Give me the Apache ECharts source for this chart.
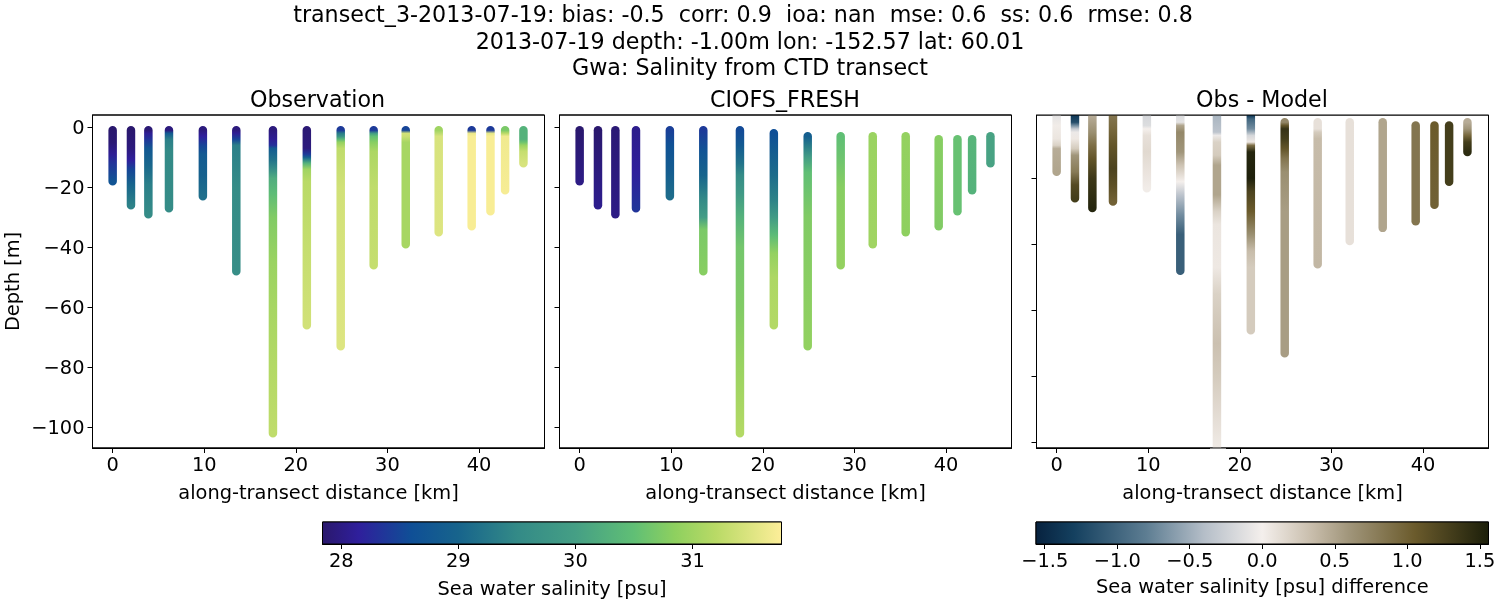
<!DOCTYPE html>
<html>
<head>
<meta charset="utf-8">
<title>transect_3-2013-07-19</title>
<style>
html, body { margin: 0; padding: 0; background: #fff; }
#main { width: 1500px; height: 600px; }
</style>
<script src="https://cdn.jsdelivr.net/npm/echarts@6/dist/echarts.min.js"></script>
</head>
<body>
<div id="main"></div>
<script>
// along-transect position of each CTD cast [km]
var castKm = [0, 2.0, 3.9, 6.15, 9.85, 13.5, 17.5, 21.2, 24.9, 28.5, 32.0, 35.6, 39.2, 41.25, 42.85, 44.85];

// [depth m, salinity psu], one list per cast
var obsProfiles = [
    [[1, 27.85], [5, 27.9], [9, 28.1], [12, 28.35], [18, 28.7]],
    [[1, 27.85], [7, 27.95], [11, 28.15], [14, 28.5], [19, 29.0], [26, 29.4]],
    [[1, 27.9], [2, 28.1], [4, 28.35], [7, 28.75], [13, 29.05], [19, 29.35], [29, 29.55]],
    [[1, 27.95], [2, 28.8], [4, 29.35], [8, 29.5], [27, 29.55]],
    [[1, 27.95], [3, 28.15], [6, 28.5], [9, 28.8], [16, 28.95], [23, 29.15]],
    [[1, 27.95], [2, 28.1], [4, 28.5], [6, 29.35], [20, 29.55], [48, 29.6]],
    [[1, 27.95], [4, 28.1], [6, 28.3], [7, 28.8], [11, 29.2], [14, 29.6], [17, 30.2], [22, 30.45], [30, 30.75], [45, 30.95], [60, 31.05], [80, 31.15], [102, 31.25]],
    [[1, 27.9], [7, 27.95], [9, 28.4], [10, 28.9], [11, 29.5], [12, 30.3], [14, 31.0], [18, 31.2], [40, 31.3], [66, 31.4]],
    [[1, 28.4], [2, 29.3], [3, 29.7], [4, 30.4], [5, 30.9], [7, 31.25], [20, 31.4], [73, 31.5]],
    [[1, 28.4], [2, 29.9], [3, 30.5], [5, 30.8], [8, 31.1], [20, 31.25], [46, 31.3]],
    [[1, 28.5], [2, 31.4], [3, 31.35], [5, 31.05], [39, 31.05]],
    [[1, 31.0], [3, 31.45], [35, 31.5]],
    [[1, 28.4], [2, 31.6], [3, 31.72], [33, 31.72]],
    [[1, 28.4], [2, 31.55], [3, 31.72], [28, 31.72]],
    [[1, 30.7], [2, 31.2], [3, 31.65], [21, 31.7]],
    [[1, 30.3], [4, 30.3], [5, 30.6], [6, 30.95], [8, 31.3], [12, 31.45]]
];

var modelProfiles = [
    [[1, 27.85], [18, 28.0]],
    [[1, 27.85], [26, 28.05]],
    [[1, 27.9], [29, 28.0]],
    [[1, 28.05], [15, 28.15], [27, 28.35]],
    [[1, 28.45], [6, 28.65], [14, 28.85], [23, 29.1]],
    [[1, 28.4], [8, 28.7], [16, 29.0], [24, 29.5], [30, 29.95], [34, 30.7], [48, 30.8]],
    [[1, 28.55], [6, 28.8], [12, 29.2], [16, 29.55], [22, 29.85], [30, 30.3], [40, 30.65], [60, 30.75], [80, 30.95], [102, 31.15]],
    [[2, 28.6], [8, 28.85], [16, 29.1], [24, 29.4], [30, 29.9], [36, 30.45], [42, 30.9], [50, 31.1], [66, 31.15]],
    [[3, 28.9], [6, 29.3], [10, 29.95], [15, 30.5], [30, 30.75], [73, 30.88]],
    [[3, 30.5], [10, 30.6], [20, 30.8], [46, 30.9]],
    [[3, 30.95], [39, 31.0]],
    [[3, 30.9], [35, 30.85]],
    [[4, 30.8], [33, 30.75]],
    [[4, 30.55], [28, 30.55]],
    [[4, 30.35], [21, 30.3]],
    [[3, 30.05], [12, 30.05]]
];

var diffProfiles = [
    [[1, -0.1], [4, 0.02], [8, 0.07], [10, 0.2], [11, 0.45], [18, 0.5]],
    [[1, -1.35], [3, -1.2], [4, -0.7], [5, -0.3], [6, -0.05], [8, 0.05], [11, 0.25], [13, 0.6], [18, 0.8], [22, 1.2], [26, 1.3]],
    [[1, 0.45], [6, 0.65], [10, 0.9], [14, 1.1], [20, 1.35], [29, 1.5]],
    [[1, 0.85], [5, 0.95], [10, 1.1], [17, 1.25], [22, 1.15], [27, 1.0]],
    [[1, -0.2], [4, -0.15], [5, 0.0], [7, 0.1], [12, 0.15], [18, 0.08], [23, 0.02]],
    [[1, -0.15], [3, -0.1], [4, 0.5], [6, 0.7], [12, 0.6], [16, 0.3], [21, 0.0], [25, -0.35], [31, -0.7], [37, -1.05], [48, -1.05]],
    [[1, -0.45], [6, -0.35], [7, -0.05], [9, 0.2], [13, 0.25], [16, 0.5], [25, 0.5], [30, 0.2], [34, 0.07], [47, 0.05], [55, 0.2], [70, 0.32], [80, 0.25], [90, 0.15], [102, 0.03]],
    [[1, -1.35], [2, -1.0], [5, -0.7], [7, -0.2], [9, 0.05], [10, 0.9], [12, 1.5], [20, 1.55], [24, 1.25], [30, 1.05], [37, 0.65], [42, 0.35], [47, 0.25], [66, 0.25]],
    [[3, 0.7], [4, 1.1], [5, 1.4], [8, 1.3], [11, 1.1], [14, 0.85], [18, 0.65], [30, 0.55], [73, 0.55]],
    [[3, 0.1], [5, 0.1], [6, 0.25], [8, 0.35], [46, 0.38]],
    [[3, 0.1], [39, 0.1]],
    [[3, 0.5], [35, 0.5]],
    [[4, 0.85], [33, 0.85]],
    [[4, 1.05], [28, 1.0]],
    [[4, 1.3], [21, 1.3]],
    [[3, 0.45], [5, 0.6], [7, 0.95], [9, 1.3], [12, 1.45]]
];

// colour scales
var salinityStops = [27.84, 28.15, 28.6, 29.0, 29.5, 30.0, 30.5, 30.85, 31.2, 31.76];
var salinityColors = ['#2a186c', '#2f1f9c', '#0f4f96', '#17648c', '#338a87', '#459f85', '#60bf75', '#8ed05f', '#b9da66', '#fdee99'];
var diffStops = [-1.56, -1.3, -0.8, -0.4, 0.0, 0.35, 0.6, 1.05, 1.56];
var diffColors = ['#07223f', '#14405f', '#5d7d92', '#b5bec8', '#f4efec', '#c7bcaa', '#a0957a', '#6b5b2c', '#1c1f0a'];

var depthTicks = [-100, -80, -60, -40, -20, 0];
var depthTicksDiff = [-100, -80, -60, -40, -20];
var kmTicks = [0, 10, 20, 30, 40];
var salinityTicks = [28, 29, 30, 31];
var diffTicks = [-1.5, -1.0, -0.5, 0.0, 0.5, 1.0, 1.5];

var FONT = 'DejaVu Sans';
var TICK_SIZE = 19.4;
var LABEL_SIZE = 19.4;
var LINE_W = 8.5;

function minus(s) {
    return String(s).replace('-', '\u2212');
}

function colorAt(v, stops, colors) {
    if (v <= stops[0]) return colors[0];
    for (var i = 1; i < stops.length; i++) {
        if (v <= stops[i]) {
            var t = (v - stops[i - 1]) / (stops[i] - stops[i - 1]);
            return echarts.color.lerp(t, [colors[i - 1], colors[i]]);
        }
    }
    return colors[colors.length - 1];
}

function castGradient(profile, stops, colors, pxPerM) {
    // the gradient box of a stroked line includes half a line width at both ends
    var top = profile[0][0], bot = profile[profile.length - 1][0];
    var h = (bot - top) * pxPerM + LINE_W;
    var gs = profile.map(function (p) {
        return {
            offset: ((p[0] - top) * pxPerM + LINE_W / 2) / h,
            color: colorAt(p[1], stops, colors)
        };
    });
    return new echarts.graphic.LinearGradient(0, 0, 0, 1, gs);
}

function barGradient(stops, colors) {
    var lo = stops[0], hi = stops[stops.length - 1];
    return new echarts.graphic.LinearGradient(0, 0, 1, 0, stops.map(function (s, i) {
        return { offset: (s - lo) / (hi - lo), color: colors[i] };
    }));
}

var panels = [
    { left: 92.5, profiles: obsProfiles, stops: salinityStops, colors: salinityColors, yMin: -106.9, yMax: 4.1, ticks: depthTicks, labels: true },
    { left: 559.5, profiles: modelProfiles, stops: salinityStops, colors: salinityColors, yMin: -106.9, yMax: 4.1, ticks: depthTicks, labels: false },
    { left: 1036.5, profiles: diffProfiles, stops: diffStops, colors: diffColors, yMin: -101.7, yMax: -0.8, ticks: depthTicksDiff, labels: false }
];

var GRID_W = 452, GRID_TOP = 115, GRID_H = 333;

var axisLine = { show: true, onZero: false, lineStyle: { color: '#000', width: 1 } };
var tickLine = { color: '#000', width: 1 };

var grids = [], xAxes = [], yAxes = [], series = [], frames = [];

panels.forEach(function (p, k) {
    grids.push({ left: p.left, top: GRID_TOP, width: GRID_W, height: GRID_H, show: true, borderColor: '#000', borderWidth: 1, backgroundColor: '#fff', outerBoundsMode: 'none' });
    xAxes.push({
        type: 'value', gridIndex: k, min: -2.2, max: 47.15,
        splitLine: { show: false }, axisLine: axisLine,
        axisTick: { show: true, length: 5, lineStyle: tickLine, customValues: kmTicks },
        axisLabel: { customValues: kmTicks, color: '#000', fontFamily: FONT, fontSize: TICK_SIZE, margin: 8 },
        name: 'along-transect distance [km]', nameLocation: 'middle', nameGap: 36,
        nameTextStyle: { color: '#000', fontFamily: FONT, fontSize: LABEL_SIZE }
    });
    yAxes.push({
        type: 'value', gridIndex: k, min: p.yMin, max: p.yMax,
        splitLine: { show: false }, axisLine: axisLine,
        axisTick: { show: true, length: 5, lineStyle: tickLine, customValues: p.ticks },
        // small top-aligned line box, sets the digits just under the tick like the original
        axisLabel: { show: p.labels, customValues: p.ticks, color: '#000', fontFamily: FONT, fontSize: TICK_SIZE, margin: 8, verticalAlign: 'top', lineHeight: 4, formatter: minus },
        name: p.labels ? 'Depth [m]' : '', nameLocation: 'middle', nameGap: 69,
        nameTextStyle: { color: '#000', fontFamily: FONT, fontSize: LABEL_SIZE }
    });
    var pxPerM = GRID_H / (p.yMax - p.yMin);
    p.profiles.forEach(function (profile, c) {
        series.push({
            type: 'line', xAxisIndex: k, yAxisIndex: k, showSymbol: false, symbol: 'none', silent: true, clip: true,
            data: profile.map(function (d) { return [castKm[c], -d[0]]; }),
            lineStyle: { width: LINE_W, cap: 'round', color: castGradient(profile, p.stops, p.colors, pxPerM) }
        });
    });
    // spines sit on top of the casts, as in the original
    frames.push({ type: 'rect', silent: true, z: 101, shape: { x: p.left, y: GRID_TOP, width: GRID_W, height: GRID_H }, style: { fill: null, stroke: '#000', lineWidth: 1 } });
});

// the line clip box is half a stroke wider than the grid, mask that strip on the difference panel
var masks = [
    { type: 'rect', silent: true, z: 100, shape: { x: 1036.5, y: 108, width: GRID_W, height: 7 }, style: { fill: '#fff' } },
    { type: 'rect', silent: true, z: 100, shape: { x: 1210, y: 448, width: 16, height: 7 }, style: { fill: '#fff' } }
];

// colour bars: one filled strip on their own value axis
function addColorbar(left, width, stops, colors, ticks, label, gap, fmt) {
    var k = grids.length;
    var lo = stops[0], hi = stops[stops.length - 1];
    grids.push({ left: left, top: 522, width: width, height: 22, show: true, borderColor: '#000', borderWidth: 1, outerBoundsMode: 'none' });
    xAxes.push({
        type: 'value', gridIndex: k, min: lo, max: hi, splitLine: { show: false }, axisLine: axisLine,
        axisTick: { show: true, length: 5, lineStyle: tickLine, customValues: ticks },
        axisLabel: { customValues: ticks, color: '#000', fontFamily: FONT, fontSize: TICK_SIZE, margin: 8, formatter: fmt },
        name: label, nameLocation: 'middle', nameGap: gap,
        nameTextStyle: { color: '#000', fontFamily: FONT, fontSize: LABEL_SIZE }
    });
    yAxes.push({ type: 'value', gridIndex: k, min: 0, max: 1, show: false });
    series.push({
        type: 'line', xAxisIndex: k, yAxisIndex: k, symbol: 'none', silent: true,
        data: [[lo, 1], [hi, 1]],
        lineStyle: { width: 0 }, areaStyle: { color: barGradient(stops, colors), opacity: 1 }
    });
    frames.push({ type: 'rect', silent: true, z: 101, shape: { x: left, y: 522, width: width, height: 22 }, style: { fill: null, stroke: '#000', lineWidth: 1 } });
}
addColorbar(322.5, 459, salinityStops, salinityColors, salinityTicks, 'Sea water salinity [psu]', 36, function (v) { return String(v); });
addColorbar(1036, 452.5, diffStops, diffColors, diffTicks, 'Sea water salinity [psu] difference', 34, function (v) { return minus(v.toFixed(1)); });

function titleAt(text, cx, y, size) {
    return { text: text, left: cx, top: y, textAlign: 'center', textVerticalAlign: 'middle', textStyle: { color: '#000', fontFamily: FONT, fontSize: size, fontWeight: 'normal' }, padding: 0 };
}

var option = {
    animation: false,
    backgroundColor: '#fff',
    title: [
        titleAt('transect_3-2013-07-19: bias: -0.5  corr: 0.9  ioa: nan  mse: 0.6  ss: 0.6  rmse: 0.8', 743, 16, 22.2),
        titleAt('2013-07-19 depth: -1.00m lon: -152.57 lat: 60.01', 750, 43, 22.2),
        titleAt('Gwa: Salinity from CTD transect', 750, 69, 22.2),
        titleAt('Observation', 317.5, 101, 22.2),
        titleAt('CIOFS_FRESH', 785, 101, 22.2),
        titleAt('Obs - Model', 1262, 101, 22.2)
    ],
    grid: grids,
    xAxis: xAxes,
    yAxis: yAxes,
    series: series,
    graphic: { elements: masks.concat(frames) }
};

var chart = echarts.init(document.getElementById('main'), null, { renderer: 'canvas' });
chart.setOption(option);
</script>
</body>
</html>
